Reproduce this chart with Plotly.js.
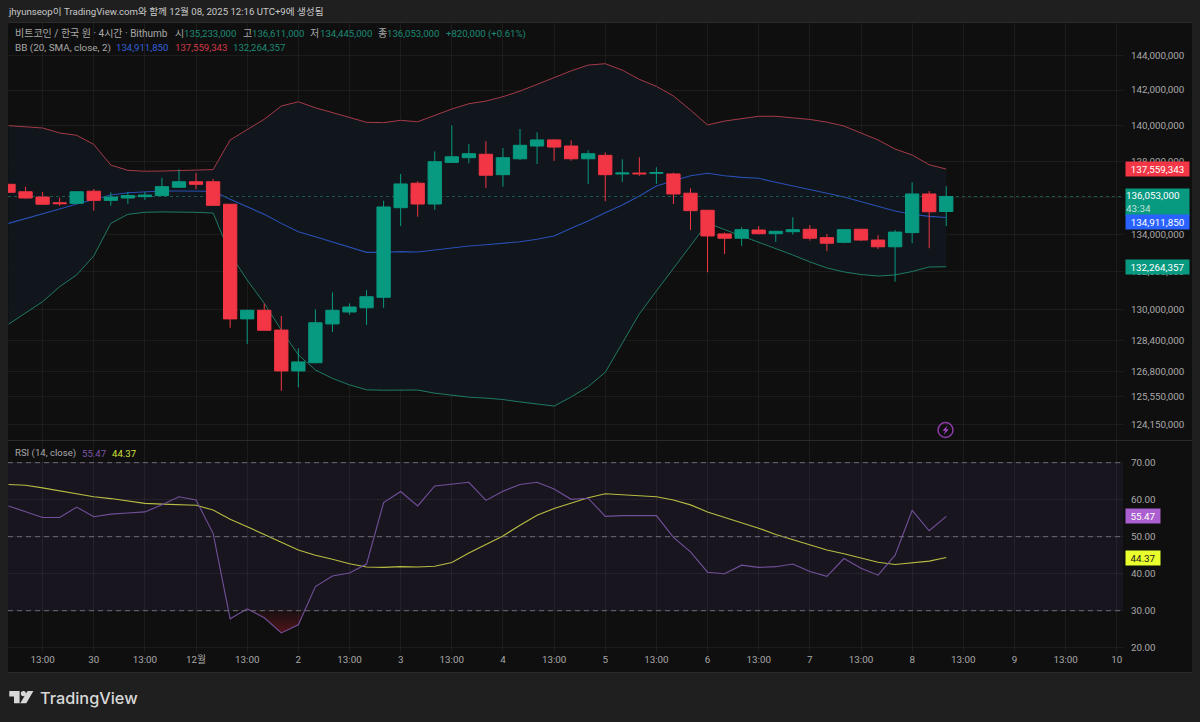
<!DOCTYPE html>
<html>
<head>
<meta charset="utf-8">
<style>html,body{margin:0;padding:0;background:#1f1f1f;overflow:hidden}</style>
<script src="https://cdn.plot.ly/plotly-3.0.1.min.js"></script>
</head>
<body>
<div id="chart" style="width:1200px;height:722px"></div>
<script>
const times = ['2025-11-29 05:00','2025-11-29 09:00','2025-11-29 13:00','2025-11-29 17:00','2025-11-29 21:00',
'2025-11-30 01:00','2025-11-30 05:00','2025-11-30 09:00','2025-11-30 13:00','2025-11-30 17:00','2025-11-30 21:00',
'2025-12-01 01:00','2025-12-01 05:00','2025-12-01 09:00','2025-12-01 13:00','2025-12-01 17:00','2025-12-01 21:00',
'2025-12-02 01:00','2025-12-02 05:00','2025-12-02 09:00','2025-12-02 13:00','2025-12-02 17:00','2025-12-02 21:00',
'2025-12-03 01:00','2025-12-03 05:00','2025-12-03 09:00','2025-12-03 13:00','2025-12-03 17:00','2025-12-03 21:00',
'2025-12-04 01:00','2025-12-04 05:00','2025-12-04 09:00','2025-12-04 13:00','2025-12-04 17:00','2025-12-04 21:00',
'2025-12-05 01:00','2025-12-05 05:00','2025-12-05 09:00','2025-12-05 13:00','2025-12-05 17:00','2025-12-05 21:00',
'2025-12-06 01:00','2025-12-06 05:00','2025-12-06 09:00','2025-12-06 13:00','2025-12-06 17:00','2025-12-06 21:00',
'2025-12-07 01:00','2025-12-07 05:00','2025-12-07 09:00','2025-12-07 13:00','2025-12-07 17:00','2025-12-07 21:00',
'2025-12-08 01:00','2025-12-08 05:00','2025-12-08 09:00'];

// prices in millions of KRW
const open = [136.72,136.31,136.02,135.71,135.68,136.34,135.84,135.97,136.04,136.10,136.56,136.86,136.86,135.63,129.52,129.97,128.94,126.84,127.26,129.26,129.88,130.10,130.65,135.44,136.78,135.64,137.93,138.19,138.38,137.25,138.13,138.84,139.18,138.84,138.13,138.32,137.29,137.34,137.33,137.29,136.23,135.30,134.02,133.79,134.23,134.03,134.14,134.27,133.82,133.57,134.27,133.69,133.33,134.09,136.19,135.233];
const high = [136.74,136.59,136.30,135.99,136.35,136.46,136.28,136.31,136.31,137.08,137.55,137.36,137.01,135.64,129.98,130.33,129.67,128.00,130.02,130.91,130.33,131.03,135.82,137.29,136.89,138.54,140.00,138.95,139.10,138.73,139.79,139.61,139.23,139.16,138.60,138.49,138.10,138.21,137.66,137.36,136.50,135.32,134.09,134.38,134.45,134.19,134.92,134.50,134.02,134.27,134.30,133.95,134.23,136.83,136.35,136.611];
const low = [136.25,135.93,135.60,135.55,135.64,135.28,135.55,135.64,135.86,136.08,136.52,136.45,135.55,129.06,128.22,128.91,125.83,126.01,127.23,128.84,129.74,129.20,130.10,134.45,134.95,135.32,137.91,137.88,136.52,136.59,138.06,137.84,138.01,138.02,136.74,135.79,136.86,137.19,136.74,135.64,134.23,131.97,132.94,133.37,134.00,133.59,133.98,133.66,133.10,133.52,133.64,133.21,131.47,133.52,133.25,134.445];
const close = [136.28,135.97,135.63,135.66,136.31,135.84,136.02,136.10,136.13,136.59,136.86,136.72,135.57,129.52,129.97,128.93,126.84,127.30,129.32,129.97,130.14,130.68,135.48,136.74,135.64,137.97,138.24,138.41,137.22,138.19,138.88,139.18,138.78,138.13,138.41,137.25,137.34,137.30,137.36,136.19,135.28,133.91,133.79,134.25,134.03,134.16,134.25,133.79,133.52,134.25,133.69,133.33,134.12,136.19,135.22,136.053];

const bbUpper = [139.98,139.93,139.85,139.57,139.44,138.93,137.78,137.49,137.44,137.45,137.49,137.51,137.53,139.18,139.77,140.34,141.09,141.33,140.99,140.73,140.43,140.17,140.15,140.28,140.20,140.58,140.92,141.22,141.37,141.62,141.94,142.32,142.72,143.10,143.43,143.51,143.14,142.61,142.21,141.66,140.86,140.02,140.24,140.39,140.51,140.51,140.43,140.33,140.18,139.96,139.57,139.18,138.67,138.34,137.80,137.559343];
const bbBasis = [134.59,134.86,135.14,135.37,135.64,135.90,136.13,136.26,136.31,136.35,136.35,136.35,136.34,135.90,135.49,135.08,134.59,134.14,133.87,133.60,133.33,133.03,133.03,133.07,133.05,133.16,133.26,133.37,133.44,133.52,133.60,133.73,133.91,134.32,134.72,135.17,135.59,136.08,136.63,136.92,137.19,137.33,137.19,137.10,137.05,136.83,136.64,136.42,136.23,136.02,135.77,135.55,135.26,135.08,134.97,134.91185];
const bbLower = [129.24,129.83,130.42,131.21,131.83,132.84,134.59,135.08,135.19,135.21,135.21,135.19,135.15,132.94,131.56,130.33,128.94,127.66,126.89,126.46,126.13,125.88,125.86,125.86,125.87,125.71,125.61,125.51,125.46,125.39,125.27,125.17,125.06,125.52,126.04,126.77,128.26,129.78,130.98,132.18,133.37,134.61,134.25,133.91,133.59,133.23,132.89,132.52,132.20,131.99,131.85,131.77,131.83,132.01,132.25,132.264357];

const rsi = [58.3,56.8,55.2,55.2,58.0,55.4,56.1,56.4,56.7,58.6,60.8,59.9,50.9,27.8,30.5,28.1,24.0,26.2,36.5,39.4,40.2,42.6,59.2,62.2,58.3,63.7,64.2,64.7,59.8,62.3,64.1,64.7,62.9,60.1,60.4,55.5,55.7,55.7,55.7,49.8,45.9,40.4,40.0,42.3,41.7,41.9,42.6,40.6,39.3,44.1,41.5,39.6,45.0,57.1,51.6,55.47];
const rsiMa = [64.1,63.9,63.2,62.4,61.7,60.8,60.3,59.6,59.0,58.8,58.7,58.5,57.2,54.7,52.7,50.7,48.5,46.4,45.0,43.9,42.7,41.8,41.7,41.9,41.8,42.0,43.0,45.6,47.8,50.2,53.1,55.8,57.6,59.0,60.5,61.6,61.4,61.1,60.8,59.9,58.6,56.7,55.3,53.9,52.3,50.6,49.2,47.7,46.4,45.4,44.3,43.1,42.5,43.0,43.4,44.37];

const oversoldX = ['2025-12-01 13:50','2025-12-01 17:00','2025-12-01 21:00','2025-12-02 01:00','2025-12-02 02:30'];
const oversoldRsi = [30,28.1,24.0,26.2,30];
const oversoldCap = [30,30,30,30,30];

const priceTicks = [144,142,140,138,136,134,132,130,128.4,126.8,125.55,124.15];
const priceTickLabels = ['144,000,000','142,000,000','140,000,000','138,000,000','136,000,000','134,000,000','132,000,000','130,000,000','128,400,000','126,800,000','125,550,000','124,150,000'];
const rsiTicks = [70,60,50,40,30,20];
const rsiTickLabels = ['70.00','60.00','50.00','40.00','30.00','20.00'];
const timeTicks = ['2025-11-29 13:00','2025-11-30 01:00','2025-11-30 13:00','2025-12-01 01:00','2025-12-01 13:00','2025-12-02 01:00','2025-12-02 13:00','2025-12-03 01:00','2025-12-03 13:00','2025-12-04 01:00','2025-12-04 13:00','2025-12-05 01:00','2025-12-05 13:00','2025-12-06 01:00','2025-12-06 13:00','2025-12-07 01:00','2025-12-07 13:00','2025-12-08 01:00','2025-12-08 13:00','2025-12-09 01:00','2025-12-09 13:00','2025-12-10 01:00'];
const timeTickLabels = ['13:00','30','13:00','12월','13:00','2','13:00','3','13:00','4','13:00','5','13:00','6','13:00','7','13:00','8','13:00','9','13:00','10'];

const M = v => v.map(p => p * 1e6);
const lastClose = close[close.length - 1] * 1e6;
const RANGE_X = ['2025-11-29 04:53', '2025-12-10 02:28'];

const GREEN = '#089981', RED = '#f23645', BLUE = '#2962ff', PURPLE = '#ab5fd0', YELLOW = '#eaff2e';
const GREY = '#a9a9a9';
const FONT = 'Roboto, "Noto Sans CJK KR", sans-serif';
const FS = 9.8;
const L = 8, R = 1123, T = 23, B = 652;
const px = x => (x - L) / (R - L);
const py = y => (B - y) / (B - T);

const traces = [
  {type:'scatter', mode:'lines', x:times, y:M(bbLower), xaxis:'x', yaxis:'y', line:{color:'#1f7a64', width:1}, hoverinfo:'skip', showlegend:false},
  {type:'scatter', mode:'lines', x:times, y:M(bbUpper), xaxis:'x', yaxis:'y', line:{color:'#a53a48', width:1}, fill:'tonexty', fillcolor:'#10161c', hoverinfo:'skip', showlegend:false},
  {type:'scatter', mode:'lines', x:times, y:M(bbBasis), xaxis:'x', yaxis:'y', line:{color:'#2a4fb4', width:1.1}, hoverinfo:'skip', showlegend:false},
  {type:'scatter', mode:'lines', x:RANGE_X, y:[lastClose,lastClose], xaxis:'x', yaxis:'y', line:{color:'#1d5a4e', width:1, dash:'dot'}, hoverinfo:'skip', showlegend:false},
  {type:'candlestick', x:times, open:M(open), high:M(high), low:M(low), close:M(close), xaxis:'x', yaxis:'y3',
    increasing:{line:{color:GREEN,width:1}, fillcolor:GREEN},
    decreasing:{line:{color:RED,width:1}, fillcolor:RED},
    whiskerwidth:0, hoverinfo:'skip', showlegend:false},
  {type:'scatter', mode:'lines', x:oversoldX, y:oversoldCap, xaxis:'x', yaxis:'y2', line:{width:0}, hoverinfo:'skip', showlegend:false},
  {type:'scatter', mode:'lines', x:oversoldX, y:oversoldRsi, xaxis:'x', yaxis:'y2', line:{width:0}, fill:'tonexty',
    fillgradient:{type:'vertical', start:24, stop:30, colorscale:[[0,'rgba(135,25,35,0.55)'],[1,'rgba(135,25,35,0.08)']]}, hoverinfo:'skip', showlegend:false},
  {type:'scatter', mode:'lines', x:times, y:rsiMa, xaxis:'x', yaxis:'y2', line:{color:'#b6bd42', width:1.1}, hoverinfo:'skip', showlegend:false},
  {type:'scatter', mode:'lines', x:times, y:rsi, xaxis:'x', yaxis:'y2', line:{color:'#71509a', width:1.1}, hoverinfo:'skip', showlegend:false}
];

const GRID = 'rgba(255,255,255,0.055)';
const logRange = [Math.log10(134e6) - (440 - 234.3) / 5729, Math.log10(134e6) + (234.3 - 23) / 5729];

const txt = (x, y, text, color, size, extra) => Object.assign({
  xref:'paper', yref:'paper', x:px(x - 2), y:py(y), text:text, showarrow:false, xanchor:'left', yanchor:'middle',
  font:{family:FONT, size:size || 9.6, color:color}
}, extra || {});

const tag = (yref, value, text, bg, fg, extra) => Object.assign({
  xref:'paper', yref:yref, x:px(1124.5), y:value, text:text, showarrow:false, xanchor:'left', yanchor:'middle',
  width:63, height:14, borderpad:0, bgcolor:bg, align:'center', font:{family:FONT, size:FS, color:fg}
}, extra || {});

const g1 = '#1c8a74';
const annotations = [
  txt(8, 11.5, 'jhyunseop이 TradingView.com와 함께 12월 08, 2025 12:16 UTC+9에 생성됨', '#c8c8c8', 9.65),
  txt(14.5, 33.7, '비트코인 / 한국 원 · 4시간 · Bithumb', '#a8a8a8', 10),
  txt(175, 33.7, '시', '#a8a8a8', 10), txt(184, 33.7, '135,233,000', g1),
  txt(243, 33.7, '고', '#a8a8a8', 10), txt(252, 33.7, '136,611,000', g1),
  txt(310, 33.7, '저', '#a8a8a8', 10), txt(319.5, 33.7, '134,445,000', g1),
  txt(378, 33.7, '종', '#a8a8a8', 10), txt(387, 33.7, '136,053,000', g1),
  txt(446, 33.7, '+820,000 (+0.61%)', g1),
  txt(14.5, 47.7, 'BB (20, SMA, close, 2)', '#a8a8a8', 9.9),
  txt(115.6, 47.7, '134,911,850', '#3460d8'),
  txt(174.5, 47.7, '137,559,343', '#d03a4a'),
  txt(233, 47.7, '132,264,357', g1),
  txt(14.5, 453.3, 'RSI (14, close)', '#a8a8a8'),
  txt(82, 453.3, '55.47', '#7c55a8'),
  txt(111.7, 453.3, '44.37', '#d4e03a'),
  txt(40, 698, 'TradingView', '#d8d8d8', 16.3, {font:{family:'Inter, Roboto, sans-serif', size:16.3, color:'#d8d8d8', weight:500}}),
  tag('y', Math.log10(bbUpper[55] * 1e6), '137,559,343', RED, '#ffffff'),
  tag('y', Math.log10(lastClose), '136,053,000<br><span style="color:#bfe3da">43:34</span>', GREEN, '#ffffff', {height:26, yshift:-6, align:'left', font:{family:FONT, size:FS, color:'#ffffff'}}),
  tag('y', Math.log10(bbBasis[55] * 1e6), '134,911,850', BLUE, '#ffffff', {yshift:-4.5}),
  tag('y', Math.log10(bbLower[55] * 1e6), '132,264,357', GREEN, '#ffffff'),
  tag('y2', rsi[55], '55.47', PURPLE, '#ffffff', {x:px(1125), width:34}),
  tag('y2', rsiMa[55], '44.37', YELLOW, '#1a1a1a', {x:px(1125), width:34})
];

const pxPath = pts => pts.map((p, i) => (i ? 'L' : 'M') + px(p[0]) + ',' + py(p[1])).join(' ') + ' Z';
const rectP = (x0, y0, x1, y1, fill) => ({type:'rect', xref:'paper', yref:'paper', x0:px(x0), x1:px(x1), y0:py(y0), y1:py(y1), fillcolor:fill, line:{width:0}, layer:'below'});
const hline = (x0, x1, y, color) => ({type:'line', xref:'paper', yref:'paper', x0:px(x0), x1:px(x1), y0:py(y), y1:py(y), line:{color:color, width:1}, layer:'above'});
const rsiLine = v => ({type:'line', xref:'x', yref:'y2', x0:RANGE_X[0], x1:RANGE_X[1], y0:v, y1:v, line:{color:'#6e6a78', width:1, dash:'5px,4px'}, layer:'above'});

const shapes = [
  rectP(8, 23, 1192, 672, '#0f0f0f'),
  {type:'rect', xref:'x', yref:'y2', x0:RANGE_X[0], x1:RANGE_X[1], y0:30, y1:70, fillcolor:'#19151f', line:{width:0}, layer:'below'},
  hline(8, 1192, 440.5, '#2b2b2b'),
  hline(8, 1192, 672.5, '#2b2b2b'),
  hline(8, 1192, 22.5, '#2b2b2b'),
  rsiLine(70), rsiLine(50), rsiLine(30),
  // lightning badge
  {type:'circle', xref:'paper', yref:'paper', x0:px(938), x1:px(953), y0:py(422.5), y1:py(437.5), line:{color:'#8e3aa8', width:1.5}, fillcolor:'rgba(0,0,0,0)', layer:'above'},
  {type:'path', xref:'paper', yref:'paper', path:pxPath([[947.5,425.5],[942.5,430.8],[945.3,430.8],[943.8,434.8],[948.8,429.2],[946,429.2]]), fillcolor:'#a546c4', line:{width:0}, layer:'above'},
  // TradingView logo
  {type:'path', xref:'paper', yref:'paper', path:pxPath([[9.3,691],[19.6,691],[19.6,703.3],[14,703.3],[14,696.6],[9.3,696.6]]), fillcolor:'#d8d8d8', line:{width:0}, layer:'above'},
  {type:'circle', xref:'paper', yref:'paper', x0:px(20.8), x1:px(26), y0:py(691), y1:py(696.2), fillcolor:'#d8d8d8', line:{width:0}, layer:'above'},
  {type:'path', xref:'paper', yref:'paper', path:pxPath([[27.6,691],[33.4,691],[26.3,703.3],[20.2,703.3]]), fillcolor:'#d8d8d8', line:{width:0}, layer:'above'}
];

const layout = {
  width:1200, height:722,
  margin:{l:L, r:1200 - R, t:T, b:722 - B, pad:0},
  paper_bgcolor:'#1f1f1f', plot_bgcolor:'#0f0f0f',
  showlegend:false, hovermode:false, boxgap:0.22, boxgroupgap:0, dragmode:false,
  font:{family:FONT, size:FS, color:GREY},
  xaxis:{type:'date', range:RANGE_X, anchor:'y2', showgrid:true, gridcolor:GRID, gridwidth:1, zeroline:false, showline:false,
    tickmode:'array', tickvals:timeTicks, ticktext:timeTickLabels, ticks:'', ticklen:0,
    tickfont:{family:FONT, size:FS, color:GREY}, rangeslider:{visible:false}, automargin:false},
  yaxis:{type:'log', range:logRange, domain:[(B - 440) / (B - T), 1], side:'right', anchor:'x', showgrid:true, gridcolor:GRID, zeroline:false, showline:false,
    tickmode:'array', tickvals:priceTicks.map(v => v * 1e6), ticktext:priceTickLabels, ticks:'outside', ticklen:5, tickcolor:'rgba(0,0,0,0)',
    tickfont:{family:FONT, size:FS, color:GREY}, automargin:false},
  yaxis3:{type:'log', range:logRange, overlaying:'y', side:'right', anchor:'x', visible:false, showgrid:false, zeroline:false},
  yaxis2:{type:'linear', range:[18.84, 75.86], domain:[0, (B - 441) / (B - T)], side:'right', anchor:'x', showgrid:true, gridcolor:GRID, zeroline:false, showline:false,
    tickmode:'array', tickvals:rsiTicks, ticktext:rsiTickLabels, ticks:'outside', ticklen:5, tickcolor:'rgba(0,0,0,0)',
    tickfont:{family:FONT, size:FS, color:GREY}, automargin:false},
  annotations:annotations,
  shapes:shapes
};

Plotly.newPlot('chart', traces, layout, {displayModeBar:false, staticPlot:true, responsive:false});
</script>
</body>
</html>
